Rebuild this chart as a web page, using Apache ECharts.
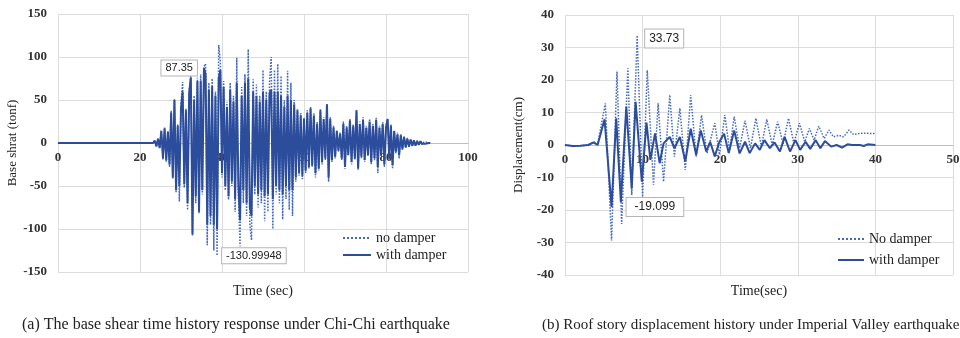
<!DOCTYPE html>
<html><head><meta charset="utf-8">
<script src="https://cdn.jsdelivr.net/npm/echarts@6/dist/echarts.min.js"></script>
<style>html,body{margin:0;padding:0;background:#fff}#c{width:960px;height:338px}</style>
</head><body><div id="c"></div>
<script>
// ---------- (a) Chi-Chi base shear (tonf), sampled every 0.4 s from 23.2 s ----------
const leftStart = 23.2;
const leftStep = 0.4;
const leftNoDamper = [
  0, 3, -4, 5, -6, 15, -19, 18, -22, 14,
  -28, 38, -42, 51, -58, 22, -68, 45, 71, -52,
  40, -78, 62, 78, -108, 55, -70, 76, -82, 80,
  -60, 89, 92, -119, 70, -95, 75, -125, 60, -130.99948,
  114, 95, -40, 72, -55, 48, -66, 70, -50, 55,
  -80, 99, -60, -120, 65, -70, 80, -85, 109, -95,
  -113, 74, -60, 68, -75, 55, -70, 85, -91, 60,
  -80, 72, 100, -100, 85, -60, 92, -70, 78, -89,
  50, -65, 84, -78, 70, -85, 50, -45, 40, -38,
  35, -42, 30, -35, 38, -30, 42, -28, 35, -40,
  25, -32, 40, -25, 30, -20, 45, -45, 30, -22,
  20, -18, 15, -10, 12, -20, 25, -30, 20, -15,
  28, -25, 22, -20, 38, -31, 25, -18, 30, -22,
  20, -15, 28, -25, 22, -20, 30, -35, 20, -15,
  25, -28, 20, 28, -20, 22, -30, 15, -12, 12,
  -18, 10, -8, 8, -6, 6, -5, 4, -4, 3,
  -3, 3, -2, 2, -2, 1, -1, 1, 0, 0
];
const leftWithDamper = [
  0, 3, -4, 5, -6, 14, -18, 17, -20, 13,
  -25, 35, -40, 50, -55, 20, -50, 40, 60, -48,
  38, -70, 58, 76, -106, 50, -62, 72, -80, 72,
  -55, 87.35, 80, -95, 62, -85, 66, -95, 55, -100,
  75, 85, -35, 65, -50, 42, -62, 62, -45, 48,
  -65, 70, -50, -90, 55, -55, 70, -70, 75, -75,
  -85, 60, -50, 55, -60, 48, -55, 60, -62, 50,
  -60, 58, 62, -65, 60, -50, 60, -55, 55, -60,
  42, -50, 55, -55, 50, -55, 45, -40, 38, -35,
  32, -38, 28, -32, 35, -28, 40, -26, 32, -35,
  22, -30, 38, -22, 28, -18, 45, -40, 28, -20,
  18, -16, 14, -9, 11, -18, 22, -28, 18, -14,
  26, -22, 20, -18, 38, -30, 22, -16, 27, -20,
  18, -14, 25, -22, 20, -18, 27, -28, 18, -13,
  22, -25, 18, 28, -18, 20, -26, 14, -10, 10,
  -14, 9, -7, 7, -5, 5, -4, 4, -3, 3,
  -3, 2, -2, 2, -1, 1, -1, 1, 0, 0
];
const leftXTicks = [0, 20, 40, 60, 80, 100];
const leftYTicks = [-150, -100, -50, 0, 50, 100, 150];

// ---------- (b) Imperial Valley roof displacement (cm) ----------
const rightNoDamperTime = [0, 1, 2, 3, 3.7, 4.2, 5.2, 6.0, 6.7, 7.3, 8.1, 8.6, 9.3, 10.0, 10.6, 11.4, 12.0, 12.7, 13.5, 14.1,
  14.8, 15.5, 16.2, 16.9, 17.6, 18.3, 19.3, 19.9, 20.6, 21.2, 21.8, 22.5, 23.2, 23.9, 24.6, 25.3, 26.0, 26.7, 27.4, 28.1,
  28.8, 29.5, 30.2, 30.9, 31.5, 32.1, 32.7, 33.4, 34.0, 34.6, 35.3, 35.9, 36.6, 37.2, 38, 39, 40];
const rightNoDamper = [0, -0.3, -0.2, 0, 1, 0.2, 12.8, -29.4, 22.6, -24.3, 23.6, -15.4, 33.73, -16, 23, -12.3, 12.8, -11.3, 15.4, -3.6,
  11.3, -7.7, 15.4, -3.6, 9.2, -2.6, 6.7, -3, 9.2, -1.5, 8.7, -1, 7.5, -1, 8.2, -0.5, 7.9, 0, 7.2, 0.3,
  8.2, 0.5, 6.7, 1, 5.1, 1.5, 5.8, 2, 4.6, 2.5, 3, 2.5, 4.6, 3.2, 3.6, 3.6, 3.5];
const rightWithDamperTime = [0, 1, 2, 3, 3.7, 4.2, 5.1, 6.0, 6.6, 7.2, 7.9, 8.1, 8.6, 9.1, 9.9, 10.5, 11.0, 11.6, 12.2, 12.7,
  13.5, 14.1, 14.8, 15.5, 16.2, 16.9, 17.5, 18.2, 18.7, 19.3, 19.9, 20.5, 21.1, 21.8, 22.5, 23.2, 23.8, 24.5, 25.1, 25.7,
  26.4, 27.0, 27.7, 28.3, 29.0, 29.7, 30.3, 31.0, 31.6, 32.3, 32.9, 33.5, 34.3, 35.0, 35.7, 36.4, 37.0, 38.0, 38.5, 39.0, 40];
const rightWithDamper = [0, -0.3, -0.2, 0, 0.8, 0, 7.9, -19.099, 8.2, -17.5, 11.8, 12, -13.3, 13.3, -11.3, 6.9, -4.6, 3.6, -5.6, 0.5,
  2.5, -1, 2.5, -5, 5, -3, 4.5, -2, 1, -3.5, 1, 3.5, -2.5, 4.5, -2.6, 1, -2.5, 0.5, -1.5, 1.5,
  -1, 0.8, -2, 2.5, -2, 1.5, -1.5, 1, -1.2, 1.5, -1, 1.2, -0.5, 0, -0.8, 0.2, 0, 0, -0.3, 0.2, 0];
const rightXTicks = [0, 10, 20, 30, 40, 50];
const rightYTicks = [-40, -30, -20, -10, 0, 10, 20, 30, 40];

const captionA = '(a) The base shear time history response under Chi-Chi earthquake';
const captionB = '(b) Roof story displacement history under Imperial Valley earthquake';

// ---------- build ----------
function sampled(values) {
  const out = [[0, 0]];
  values.forEach((v, i) => out.push([+(leftStart + i * leftStep).toFixed(2), v]));
  return out;
}
function paired(ts, vs) { return ts.map((t, i) => [t, vs[i]]); }

const SERIF = '"Liberation Serif", "DejaVu Serif", serif';
const SANS = '"Liberation Sans", Arial, sans-serif';
const DOT = '#4169c4';
const SOLID = '#2c4c9c';
const GRIDC = '#dcdcdc';

// plot heights: left 258 px (zero at middle => 129 px up), right 260 px (zero => 130 px up)
function xAxis(gi, ticks, name, gap, lift) {
  return {
    type: 'value', gridIndex: gi, min: ticks[0], max: ticks[ticks.length - 1],
    interval: ticks[1] - ticks[0],
    position: 'bottom', offset: -lift,
    name: name, nameLocation: 'middle', nameGap: gap,
    nameTextStyle: { fontFamily: SERIF, fontSize: 14, color: '#222' },
    axisLine: { onZero: false, lineStyle: { color: '#bfbfbf', width: 1 } },
    axisTick: { show: false },
    axisLabel: { fontFamily: SERIF, fontSize: 13, fontWeight: 'bold', color: '#333', margin: 8 },
    splitLine: { show: true, lineStyle: { color: GRIDC } }
  };
}
function yAxis(gi, ticks, name, gap) {
  return {
    type: 'value', gridIndex: gi, min: ticks[0], max: ticks[ticks.length - 1],
    interval: ticks[1] - ticks[0],
    name: name, nameLocation: 'middle', nameGap: gap,
    nameTextStyle: { fontFamily: SERIF, fontSize: 13, color: '#222' },
    axisLine: { show: false, onZero: false }, axisTick: { show: false },
    axisLabel: { fontFamily: SERIF, fontSize: 13, fontWeight: 'bold', color: '#333', margin: 11 },
    splitLine: { show: true, lineStyle: { color: GRIDC } }
  };
}
const boxLabel = (fs, pad) => ({
  show: true, backgroundColor: '#fff', borderColor: '#b5b5b5', borderWidth: 1,
  padding: pad, color: '#222', fontFamily: SANS, fontSize: fs
});

const chart = echarts.init(document.getElementById('c'), null, { renderer: 'canvas' });
chart.setOption({
  animation: false,
  backgroundColor: '#fff',
  title: [
    { text: captionA, left: 17, top: 312, textStyle: { fontFamily: SERIF, fontSize: 16, fontWeight: 'normal', color: '#222' } },
    { text: captionB, left: 537, top: 313, textStyle: { fontFamily: SERIF, fontSize: 15, fontWeight: 'normal', color: '#222' } }
  ],
  grid: [
    { left: 58, right: 492, top: 14, bottom: 66, containLabel: false, outerBoundsMode: 'none' },
    { left: 565, right: 7, top: 15, bottom: 63, containLabel: false, outerBoundsMode: 'none' }
  ],
  xAxis: [xAxis(0, leftXTicks, 'Time (sec)', 141, 129), xAxis(1, rightXTicks, 'Time(sec)', 139, 130)],
  yAxis: [yAxis(0, leftYTicks, 'Base shrat (tonf)', 36), yAxis(1, rightYTicks, 'Displacement(cm)', 40)],
  legend: [
    { data: ['no damper', 'with damper'], orient: 'vertical', left: 337, top: 226, itemWidth: 28, itemHeight: 14, itemGap: 3,
      itemStyle: { opacity: 0 }, textStyle: { fontFamily: SERIF, fontSize: 14, color: '#222' } },
    { data: ['No damper', 'with damper'], orient: 'vertical', left: 832, top: 227, itemWidth: 26, itemHeight: 14, itemGap: 7,
      itemStyle: { opacity: 0 }, textStyle: { fontFamily: SERIF, fontSize: 14, color: '#222' } }
  ],
  series: [
    { name: 'no damper', type: 'line', xAxisIndex: 0, yAxisIndex: 0, data: sampled(leftNoDamper),
      showSymbol: false, symbol: 'none', lineStyle: { color: DOT, width: 1.5, type: 'dotted' }, itemStyle: { color: DOT },
      markPoint: { symbol: 'circle', symbolSize: 0, data: [{ coord: [leftStart + 39 * leftStep, -130.99948], value: '-130.99948',
        label: Object.assign(boxLabel(11, [2, 4]), { position: 'right', distance: 5, formatter: '-130.99948' }) }] } },
    { name: 'with damper', type: 'line', xAxisIndex: 0, yAxisIndex: 0, data: sampled(leftWithDamper),
      showSymbol: false, symbol: 'none', lineStyle: { color: SOLID, width: 2 }, itemStyle: { color: SOLID },
      markPoint: { symbol: 'circle', symbolSize: 0, data: [{ coord: [leftStart + 31 * leftStep, 87.35], value: '87.35',
        label: Object.assign(boxLabel(11, [2, 4]), { position: 'left', distance: 7, formatter: '87.35' }) }] } },
    { name: 'No damper', type: 'line', xAxisIndex: 1, yAxisIndex: 1, data: paired(rightNoDamperTime, rightNoDamper),
      showSymbol: false, symbol: 'none', lineStyle: { color: DOT, width: 1.5, type: 'dotted' }, itemStyle: { color: DOT },
      markPoint: { symbol: 'circle', symbolSize: 0, data: [{ coord: [9.3, 33.73], value: '33.73',
        label: Object.assign(boxLabel(12, [3, 4]), { position: 'right', distance: 8, offset: [0, 3], formatter: '33.73' }) }] } },
    { name: 'with damper', type: 'line', xAxisIndex: 1, yAxisIndex: 1, data: paired(rightWithDamperTime, rightWithDamper),
      showSymbol: false, symbol: 'none', lineStyle: { color: SOLID, width: 2 }, itemStyle: { color: SOLID },
      markPoint: { symbol: 'circle', symbolSize: 0, data: [{ coord: [6.0, -19.099], value: '-19.099',
        label: Object.assign(boxLabel(12, [3, 8]), { position: 'right', distance: 15, formatter: '-19.099' }) }] } }
  ]
});
</script></body></html>
